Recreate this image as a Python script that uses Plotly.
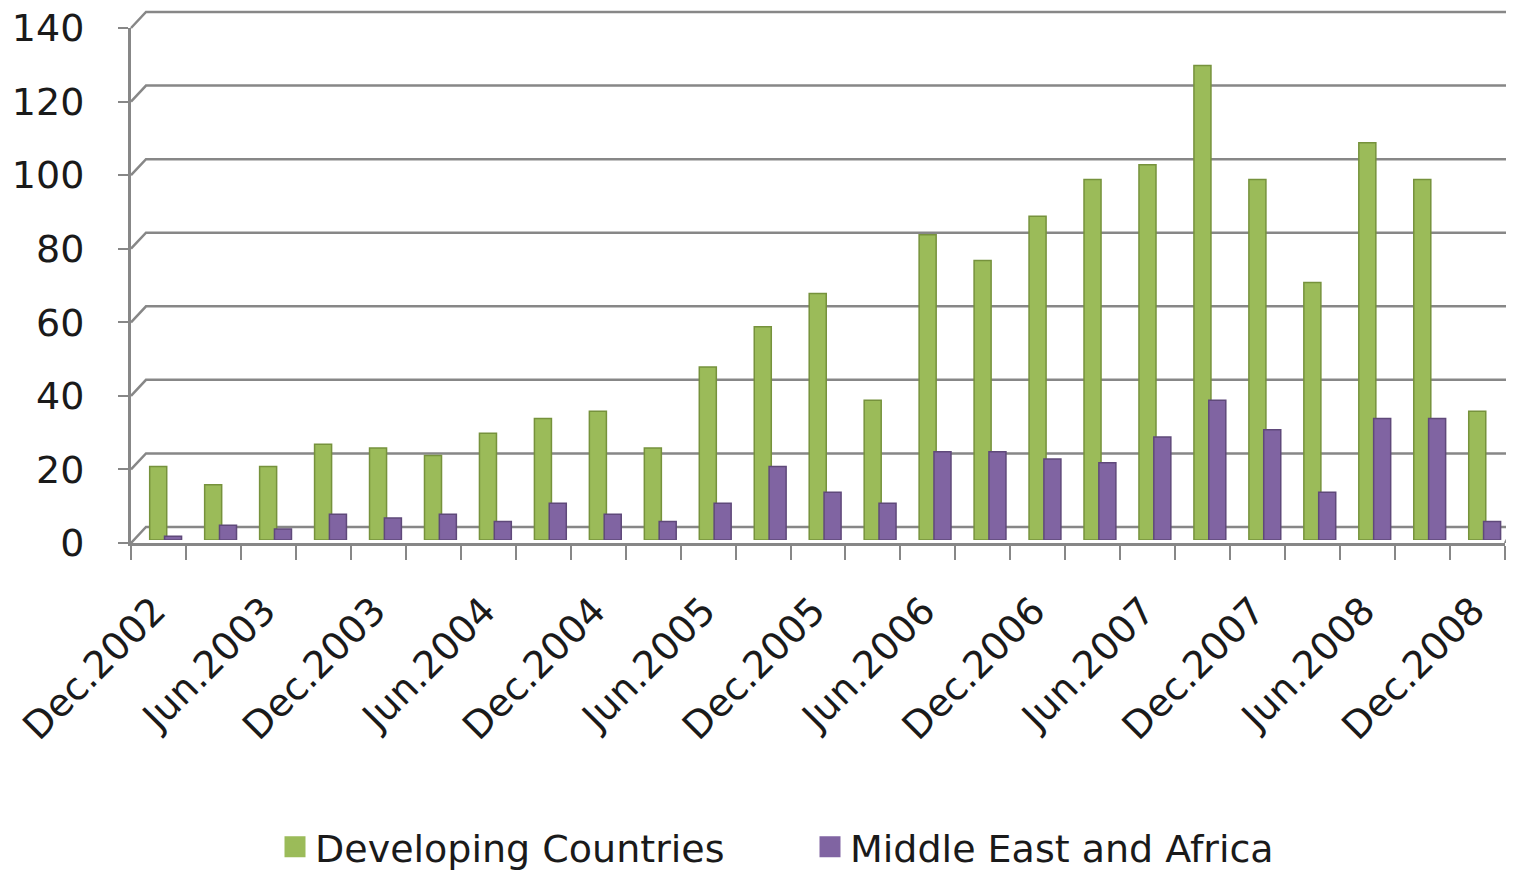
import plotly.graph_objects as go

categories = [
    "Dec.2002", "Mar.2003", "Jun.2003", "Sep.2003", "Dec.2003", "Mar.2004", "Jun.2004",
    "Sep.2004", "Dec.2004", "Mar.2005", "Jun.2005", "Sep.2005", "Dec.2005", "Mar.2006",
    "Jun.2006", "Sep.2006", "Dec.2006", "Mar.2007", "Jun.2007", "Sep.2007", "Dec.2007",
    "Mar.2008", "Jun.2008", "Sep.2008", "Dec.2008",
]
developing = [20, 15, 20, 26, 25, 23, 29, 33, 35, 25, 47, 58, 67, 38, 83, 76, 88, 98,
              102, 129, 98, 70, 108, 98, 35]
mea = [1, 4, 3, 7, 6, 7, 5, 10, 7, 5, 10, 20, 13, 10, 24, 24, 22, 21, 28, 38, 30, 13,
       33, 33, 5]
y_ticks = [0, 20, 40, 60, 80, 100, 120, 140]
tick_labels = [c if i % 2 == 0 else "" for i, c in enumerate(categories)]

FONT = "DejaVu Sans"
GRID = "#878787"
TXT = "#1a1a1a"

# the page body adds an 8px margin, so the figure is 8px smaller
PAGE_PAD = 8
W, H = 1514 - PAGE_PAD, 872 - PAGE_PAD
FRONT_L, FRONT_R = 131 - PAGE_PAD, 1505 - PAGE_PAD
FRONT_T, BASE = 28 - PAGE_PAD, 543 - PAGE_PAD
BAR_LIFT = 3                 # bars stand slightly behind the front edge
DEPTH_PX_X, DEPTH_PX_Y = 15, 16
ML, MT = FRONT_L - 3, FRONT_T - DEPTH_PX_Y - 2
MB = H - BASE
PW, PH = W - ML, H - MT - MB

n = len(categories)
ymax = 140
px_per_unit = (BASE - FRONT_T) / ymax
px_per_cat = (FRONT_R - FRONT_L) / n
DEPTH_X = DEPTH_PX_X / px_per_cat
DEPTH_Y = DEPTH_PX_Y / px_per_unit

back_x0 = -0.5 - (FRONT_L - ML) / px_per_cat
back_x1 = back_x0 + PW / px_per_cat
back_y1 = PH / px_per_unit

fig = go.Figure()

# back wall grid lines with 3D corner connectors
for v in y_ticks:
    fig.add_trace(go.Scatter(
        x=[-0.5, -0.5 + DEPTH_X, back_x1], y=[v, v + DEPTH_Y, v + DEPTH_Y],
        mode="lines", line=dict(color=GRID, width=2.5),
        xaxis="x", yaxis="y", showlegend=False, hoverinfo="skip",
    ))
fig.add_trace(go.Scatter(
    x=[n - 0.5, back_x1], y=[0, DEPTH_Y],
    mode="lines", line=dict(color=GRID, width=2.5),
    xaxis="x", yaxis="y", showlegend=False, hoverinfo="skip",
))

# empty trace so the front axes (ticks and labels) are drawn
fig.add_trace(go.Scatter(
    x=[None], y=[None], mode="markers", xaxis="x2", yaxis="y2",
    showlegend=False, hoverinfo="skip",
))

# bars (on their own value axis, lifted a few px above the front edge)
fig.add_trace(go.Bar(
    x=categories, y=developing, name="Developing Countries",
    width=0.31, offset=-0.16,
    marker=dict(color="#9BBB59", line=dict(color="#76923C", width=1.5)),
    xaxis="x2", yaxis="y3", showlegend=False,
))
fig.add_trace(go.Bar(
    x=categories, y=mea, name="Middle East and Africa",
    width=0.31, offset=0.11,
    marker=dict(color="#8064A2", line=dict(color="#5F497A", width=1.5)),
    xaxis="x2", yaxis="y3", showlegend=False,
))

# legend entries with larger square swatches
fig.add_trace(go.Scatter(
    x=[None], y=[None], mode="markers", name="Developing Countries",
    marker=dict(symbol="square", size=22, color="#9BBB59",
                line=dict(color="#9BBB59", width=6)),
    xaxis="x", yaxis="y",
))
fig.add_trace(go.Scatter(
    x=[None], y=[None], mode="markers", name="Middle East and Africa",
    marker=dict(symbol="square", size=22, color="#8064A2",
                line=dict(color="#8064A2", width=6)),
    xaxis="x", yaxis="y",
))

legend_center_px = 283 + 525 - 6
legend_mid_px = 847 - PAGE_PAD

front_dom = [(FRONT_L - ML) / PW, (FRONT_R - ML) / PW]
fig.update_layout(
    width=W, height=H,
    margin=dict(l=ML, r=0, t=MT, b=MB, pad=0, autoexpand=False),
    paper_bgcolor="white", plot_bgcolor="rgba(0,0,0,0)",
    barmode="overlay",
    font=dict(family=FONT, color=TXT),
    showlegend=True,
    legend=dict(
        orientation="h",
        x=(legend_center_px - ML) / PW, xanchor="center",
        y=(BASE - legend_mid_px) / PH, yanchor="middle",
        font=dict(size=38, family=FONT, color=TXT),
        entrywidth=490, traceorder="normal",
    ),
    xaxis=dict(domain=[0, 1], range=[back_x0, back_x1], visible=False,
               fixedrange=True, automargin=False),
    yaxis=dict(domain=[0, 1], range=[0, back_y1], visible=False,
               fixedrange=True, automargin=False),
    xaxis2=dict(
        domain=front_dom, anchor="y2",
        type="category", range=[-0.5, n - 0.5], automargin=False,
        tickmode="array", tickvals=categories, ticktext=tick_labels,
        tickangle=-45, tickfont=dict(size=38, family=FONT, color=TXT),
        ticklabelstandoff=27, ticklabelshift=-4, ticklabeloverflow="allow",
        tickson="boundaries", ticks="outside", ticklen=14, tickwidth=2,
        tickcolor=GRID,
        showline=True, linecolor=GRID, linewidth=3, showgrid=False,
    ),
    yaxis2=dict(
        domain=[0, (BASE - FRONT_T) / PH], anchor="x2", automargin=False,
        range=[0, ymax], tickmode="array", tickvals=y_ticks,
        tickfont=dict(size=38, family=FONT, color=TXT),
        ticks="outside", ticklen=10, tickwidth=2, tickcolor=GRID,
        ticklabelstandoff=26, ticklabeloverflow="allow",
        showline=True, linecolor=GRID, linewidth=3,
        showgrid=False, zeroline=False,
    ),
    yaxis3=dict(
        domain=[BAR_LIFT / PH, (BASE - FRONT_T + BAR_LIFT) / PH], anchor="x2",
        range=[0, ymax], visible=False, automargin=False, fixedrange=True,
    ),
)

fig.write_html("out.html")
